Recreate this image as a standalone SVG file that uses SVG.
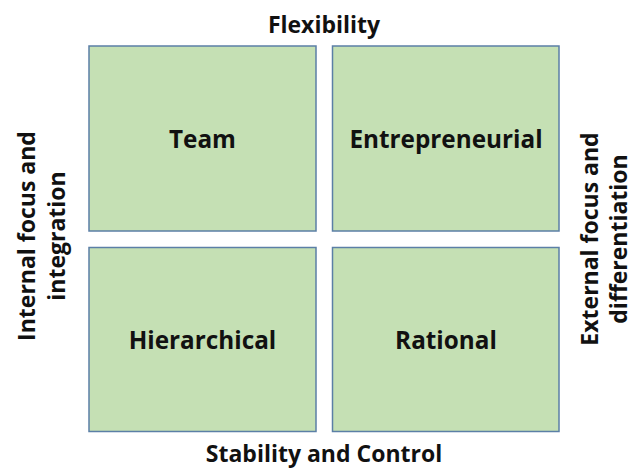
<svg xmlns="http://www.w3.org/2000/svg" width="634" height="470" viewBox="0 0 634 470">
<style>
.box{fill:#C5E0B4;stroke:#5B7FA6;stroke-width:1.5}
.t{font-family:"Open Sans",Lato,"Liberation Sans",sans-serif;font-weight:bold;fill:#111;text-anchor:middle}
.q{font-size:24.3px}
.a{font-size:23px}
</style>
<rect width="634" height="470" fill="#fff"/>
<g id="team"><rect class="box" x="89" y="46" width="227" height="185"/><text class="t q" x="202.5" y="148">Team</text></g>
<g id="entrepreneurial"><rect class="box" x="332.5" y="46" width="226.5" height="185"/><text class="t q" x="446" y="148">Entrepreneurial</text></g>
<g id="hierarchical"><rect class="box" x="89" y="247.5" width="227" height="184"/><text class="t q" x="202.5" y="349">Hierarchical</text></g>
<g id="rational"><rect class="box" x="332.5" y="247.5" width="226.5" height="184"/><text class="t q" x="446" y="349">Rational</text></g>
<g id="labels">
<text class="t a" x="324" y="33">Flexibility</text>
<text class="t a" x="324" y="462">Stability and Control</text>
<text class="t a" transform="translate(35,236) rotate(-90)">Internal focus and</text>
<text class="t a" transform="translate(65,236) rotate(-90)">integration</text>
<text class="t a" transform="translate(598,239) rotate(-90)">External focus and</text>
<text class="t a" transform="translate(627,239) rotate(-90)">differentiation</text>
</g>
<g id="connectors"/>
</svg>
